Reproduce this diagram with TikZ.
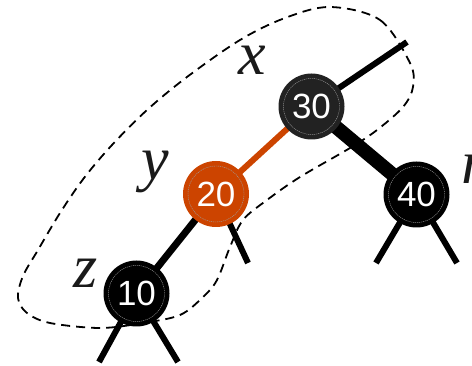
\documentclass[tikz,border=0pt]{standalone}
\usepackage{fontspec}
\setmainfont{Liberation Serif}
\newfontfamily\digitfont{Liberation Sans}
\definecolor{rbred}{HTML}{CC4400}
\definecolor{rbdark}{HTML}{222222}
\definecolor{lbl}{HTML}{1A1A1A}
\begin{document}
\begin{tikzpicture}[x=1pt,y=-1pt,
  rbnode/.style={circle, minimum size=66pt, inner sep=0pt, text=white,
    font=\digitfont\fontsize{35}{35}\selectfont},
  innerring/.style={gray!75, line width=0.4pt, dash pattern=on 1.2pt off 0.8pt},
  thinedge/.style={line width=6pt, line cap=butt},
  lblnode/.style={anchor=base, inner sep=0pt, text=lbl,
    font=\fontsize{62}{62}\selectfont\itshape},
  blob/.style={line width=1.8pt, dash pattern=on 9pt off 6pt}]
\useasboundingbox (0,0) rectangle (472,366);
% coordinates of nodes and free edge ends
\coordinate (c30) at (311.5,106.5);
\coordinate (c20) at (216,194);
\coordinate (c40) at (416.5,194.5);
\coordinate (c10) at (136.5,293.5);
\coordinate (up) at (407,42);
\coordinate (l20r) at (248,263);
\coordinate (l40l) at (376,263);
\coordinate (l40r) at (457,263);
\coordinate (l10l) at (99,362);
\coordinate (l10r) at (178,362);
% edges
\draw[thinedge] (c30) -- (up);
\draw[line width=14pt] (c30) -- (c40);
\draw[thinedge] (c20) -- (l20r);
\draw[line width=7pt] (c20) -- (c10);
\draw[thinedge] (c40) -- (l40l);
\draw[thinedge] (c40) -- (l40r);
\draw[thinedge] (c10) -- (l10l);
\draw[thinedge] (c10) -- (l10r);
\draw[thinedge, rbred] (c30) -- (c20);
% nodes
\node[rbnode, fill=rbdark] (n30) at (c30) {30};
\node[rbnode, fill=rbred] (n20) at (c20) {20};
\node[rbnode, fill=black] (n40) at (c40) {40};
\node[rbnode, fill=black] (n10) at (c10) {10};
\foreach \n in {n30,n20,n40,n10} \draw[innerring] (\n.center) circle (28);
% labels
\node[lblnode] (lx) at (252,75) {x};
\node[lblnode] (ly) at (155,180) {y};
\node[lblnode] (lz) at (86,288) {z};
\node[lblnode, anchor=base west] (lr) at (461,184) {r};
% dashed outline
\draw[blob] plot[smooth cycle, tension=0.55] coordinates {
 (330,7) (380,20) (410,63) (413,87) (403,107) (377,130) (350,148)
 (300,177) (267,200) (243,220) (230,247) (217,280) (203,297) (180,315)
 (143,323) (100,328) (50,323) (27,313) (18,298) (23,276) (38,250)
 (60,213) (84,178) (112,145) (147,110) (187,77) (240,40) (285,18)};
\end{tikzpicture}
\end{document}
